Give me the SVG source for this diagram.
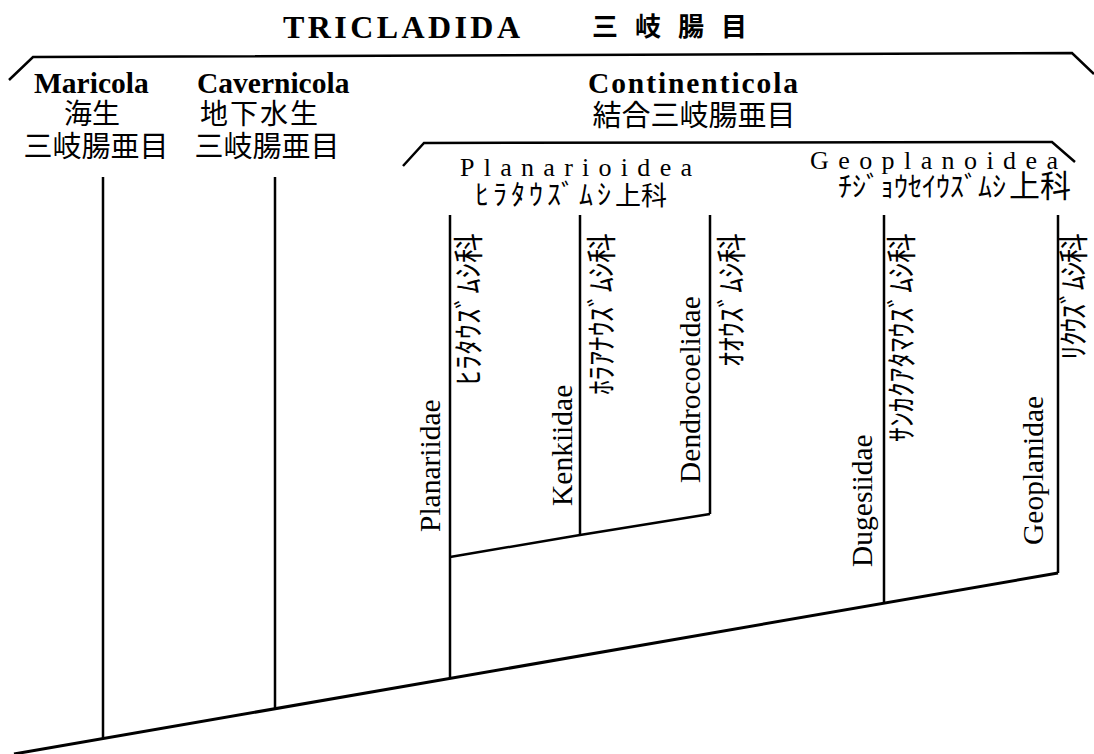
<svg xmlns="http://www.w3.org/2000/svg" width="1094" height="754" viewBox="0 0 1094 754">
<style>
.ln{stroke:#000;stroke-width:2.5;fill:none;stroke-linejoin:miter}
.base{stroke:#000;stroke-width:3;fill:none}
.lat{font-family:"Liberation Serif","Times New Roman",serif;fill:#000}
.b{font-weight:bold}
.jp{font-family:"Noto Sans CJK JP","Noto Sans CJK SC",sans-serif;fill:#000}
</style>
<rect width="1094" height="754" fill="#fff"/>
<g id="title">
<text class="lat b" x="283" y="38" font-size="32" textLength="237" lengthAdjust="spacing">TRICLADIDA</text>
<text class="jp b" x="592" y="36" font-size="26" letter-spacing="17">三岐腸目</text>
</g>
<g id="connectors">
<polyline class="ln" points="9,80 33,57 1072,53 1094,74"/>
<polyline class="ln" points="403,166 424,143 1052,142 1075,162"/>
<line class="base" x1="14" y1="754" x2="1058" y2="573"/>
<line class="ln" x1="103" y1="177" x2="103" y2="739"/>
<line class="ln" x1="275" y1="177" x2="275" y2="709"/>
<line class="ln" x1="450" y1="215" x2="450" y2="678"/>
<line class="ln" x1="884" y1="215" x2="884" y2="603"/>
<line class="ln" x1="1058" y1="215" x2="1058" y2="573"/>
<polyline class="ln" points="450,557 580,535 710,514"/>
<line class="ln" x1="580" y1="215" x2="580" y2="535"/>
<line class="ln" x1="710" y1="215" x2="710" y2="514"/>
</g>
<g id="maricola">
<text class="lat b" x="34" y="93" font-size="29.5">Maricola</text>
<text class="jp" x="92" y="124" font-size="28" text-anchor="middle">海生</text>
<text class="jp" x="96" y="157" font-size="29" text-anchor="middle">三岐腸亜目</text>
</g>
<g id="cavernicola">
<text class="lat b" x="197" y="93" font-size="29.5">Cavernicola</text>
<text class="jp" x="260" y="124" font-size="28" text-anchor="middle" letter-spacing="2">地下水生</text>
<text class="jp" x="267" y="157" font-size="29" text-anchor="middle">三岐腸亜目</text>
</g>
<g id="continenticola">
<text class="lat b" x="693" y="93" font-size="29.5" text-anchor="middle" textLength="210" lengthAdjust="spacing">Continenticola</text>
<text class="jp" x="694" y="126" font-size="29" text-anchor="middle">結合三岐腸亜目</text>
</g>
<g id="planarioidea">
<text class="lat" x="460" y="176" font-size="26" textLength="232" lengthAdjust="spacing">Planarioidea</text>
<text class="jp" x="475" y="205" font-size="28"><tspan letter-spacing="4">ﾋﾗﾀｳｽﾞﾑｼ</tspan><tspan font-size="26">上科</tspan></text>
</g>
<g id="geoplanoidea">
<text class="lat" x="810" y="169" font-size="26" textLength="248" lengthAdjust="spacing">Geoplanoidea</text>
<text class="jp" x="838" y="197" font-size="28">ﾁｼﾞｮｳｾｲｳｽﾞﾑｼ<tspan font-size="31" dx="3">上科</tspan></text>
</g>
<g id="planariidae">
<text class="lat" transform="translate(440,532) rotate(-90)" font-size="29.5">Planariidae</text>
<text class="jp" transform="translate(479,385) rotate(-90)" font-size="30" textLength="152" lengthAdjust="spacing">ﾋﾗﾀｳｽﾞﾑｼ科</text>
</g>
<g id="kenkiidae">
<text class="lat" transform="translate(572,506) rotate(-90)" font-size="29.5">Kenkiidae</text>
<text class="jp" transform="translate(612,395) rotate(-90)" font-size="30" textLength="162" lengthAdjust="spacing">ﾎﾗｱﾅｳｽﾞﾑｼ科</text>
</g>
<g id="dendrocoelidae">
<text class="lat" transform="translate(700,483) rotate(-90)" font-size="29.5">Dendrocoelidae</text>
<text class="jp" transform="translate(742,367) rotate(-90)" font-size="30" textLength="134" lengthAdjust="spacing">ｵｵｳｽﾞﾑｼ科</text>
</g>
<g id="dugesiidae">
<text class="lat" transform="translate(872,567) rotate(-90)" font-size="29.5">Dugesiidae</text>
<text class="jp" transform="translate(912,442) rotate(-90)" font-size="30" textLength="209" lengthAdjust="spacing">ｻﾝｶｸｱﾀﾏｳｽﾞﾑｼ科</text>
</g>
<g id="geoplanidae">
<text class="lat" transform="translate(1043,545) rotate(-90)" font-size="29.5">Geoplanidae</text>
<text class="jp" transform="translate(1084,360) rotate(-90)" font-size="30" textLength="127" lengthAdjust="spacing">ﾘｸｳｽﾞﾑｼ科</text>
</g>
</svg>
